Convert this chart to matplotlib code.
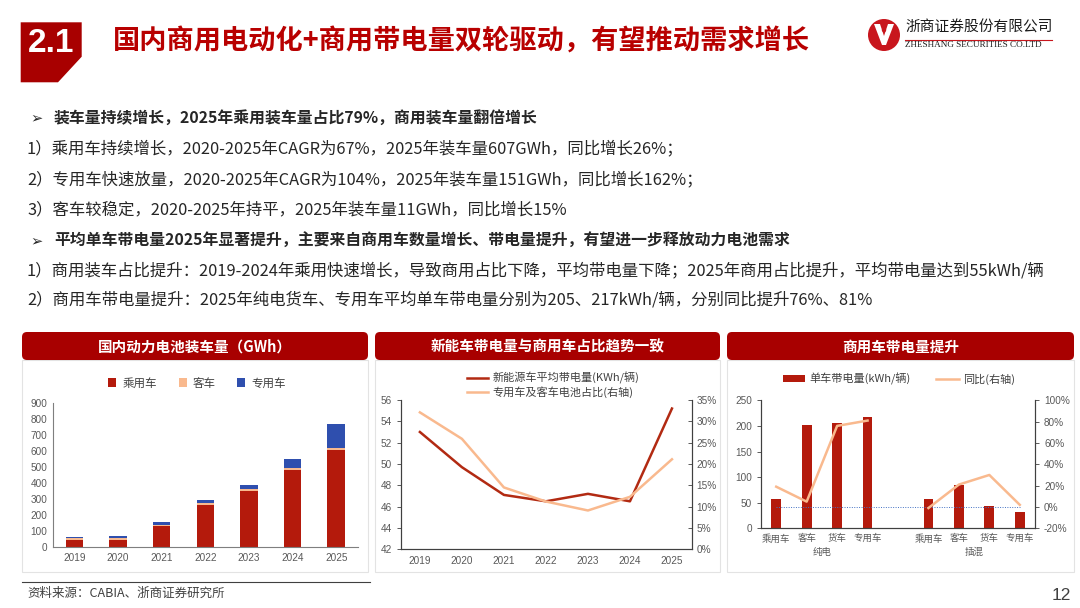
import matplotlib
matplotlib.use('Agg')
import matplotlib.pyplot as plt
from matplotlib.patches import FancyBboxPatch, Polygon, Rectangle, Circle

plt.rcParams['font.family'] = ['Noto Sans CJK SC', 'DejaVu Sans']

W, H = 1080, 608

# ---------------- data ----------------
years = ['2019', '2020', '2021', '2022', '2023', '2024', '2025']
passenger = [42, 44, 131, 264, 352, 482, 607]
bus = [13, 15, 9, 11, 7, 9.6, 11]
special = [7, 10, 16, 17, 29, 58, 151]

avg_kwh = [53.0, 49.7, 47.1, 46.5, 47.2, 46.5, 55.2]
comm_share = [0.321, 0.259, 0.145, 0.112, 0.091, 0.123, 0.211]

cat_labels = ['乘用车', '客车', '货车', '专用车', '乘用车', '客车', '货车', '专用车']
group_labels = ['纯电', '插混']
kwh_per_vehicle = [56.6, 202, 206, 217, 56.6, 84, 43.6, 32.6]
yoy = [0.19, 0.05, 0.76, 0.81, -0.01, 0.21, 0.30, 0.02]

title = '国内商用电动化+商用带电量双轮驱动，有望推动需求增长'
lines = [
    ('b', '装车量持续增长，2025年乘用装车量占比79%，商用装车量翻倍增长'),
    ('n', '1）乘用车持续增长，2020-2025年CAGR为67%，2025年装车量607GWh，同比增长26%；'),
    ('n', '2）专用车快速放量，2020-2025年CAGR为104%，2025年装车量151GWh，同比增长162%；'),
    ('n', '3）客车较稳定，2020-2025年持平，2025年装车量11GWh，同比增长15%'),
    ('b', '平均单车带电量2025年显著提升，主要来自商用车数量增长、带电量提升，有望进一步释放动力电池需求'),
    ('n', '1）商用装车占比提升：2019-2024年乘用快速增长，导致商用占比下降，平均带电量下降；2025年商用占比提升，平均带电量达到55kWh/辆'),
    ('n', '2）商用车带电量提升：2025年纯电货车、专用车平均单车带电量分别为205、217kWh/辆，分别同比提升76%、81%'),
]
panel_titles = ['国内动力电池装车量（GWh）', '新能车带电量与商用车占比趋势一致', '商用车带电量提升']

RED = '#B41A0C'
DARKRED = '#A80000'
PEACH = '#F9B98E'
BLUE = '#2F4FAE'
TXT = '#262626'
TICK = '#595959'

fig = plt.figure(figsize=(W / 100, H / 100), dpi=100)
ax0 = fig.add_axes([0, 0, 1, 1])
ax0.set_xlim(0, W)
ax0.set_ylim(H, 0)
ax0.axis('off')


def pax(x0, y0, x1, y1):
    return fig.add_axes([x0 / W, 1 - y1 / H, (x1 - x0) / W, (y1 - y0) / H])


def fpt(x, y):
    return (x / W, 1 - y / H)


# ---------------- header ----------------
ax0.add_patch(Polygon([(20.7, 22.3), (81.7, 22.3), (81.7, 56.7), (58, 82.3), (20.7, 82.3)],
                      closed=True, color=DARKRED, lw=0))
ax0.text(51, 44, '2.1', color='white', fontsize=24, fontweight='bold',
         family=['Liberation Sans'], ha='center', va='center')
ax0.text(113, 42, title, color='#B80000', fontsize=19.6, fontweight='bold',
         ha='left', va='center')

# logo
ax0.add_patch(Circle((884, 35), 16, color='#C8161D', lw=0))
ax0.add_patch(Polygon([(874, 24), (880, 24), (884, 36), (888, 24), (894, 24),
                       (886, 45), (882, 45)], closed=True, color='white', lw=0))
ax0.add_patch(Circle((884, 30), 2.2, color='#C8161D', lw=0))
ax0.text(905, 28, '浙商证券股份有限公司', fontsize=10.6, color='#1a1a1a', ha='left', va='center')
ax0.plot([905, 1052], [39.5, 39.5], color='#C8161D', lw=0.8)
ax0.text(905, 45, 'ZHESHANG SECURITIES CO.LTD', fontsize=6.6, color='#1a1a1a',
         family=['Liberation Serif'], ha='left', va='center')

# ---------------- bullet text ----------------
ys = [118, 149, 180, 210, 241, 271, 300]
for (kind, s), y in zip(lines, ys):
    if kind == 'b':
        ax0.text(30, y, '➢', fontsize=10.5, color=TXT, ha='left', va='center',
                 family=['DejaVu Sans'])
        ax0.text(54, y, s, fontsize=11.4, color=TXT, fontweight='bold', ha='left', va='center')
    else:
        ax0.text(27, y, s, fontsize=11.8, color=TXT, ha='left', va='center')

# ---------------- panel headers & borders ----------------
panels = [(22, 368), (375, 720), (727, 1074)]
for (x0, x1), t in zip(panels, panel_titles):
    ax0.add_patch(Rectangle((x0, 360), x1 - x0, 212, fill=False, ec='#E3E3E3', lw=0.8))
    ax0.add_patch(FancyBboxPatch((x0, 332), x1 - x0, 28,
                                 boxstyle='round,pad=0,rounding_size=5',
                                 color=DARKRED, lw=0))
    ax0.text((x0 + x1) / 2, 346.5, t, color='white', fontsize=10.5, fontweight='bold',
             ha='center', va='center')

# footer
ax0.plot([22, 370], [581.5, 581.5], color='#404040', lw=0.8)
ax0.text(27, 593, '资料来源：CABIA、浙商证券研究所', fontsize=9, color='#404040',
         ha='left', va='center')
ax0.text(1071, 595, '12', fontsize=12.5, color='#404040', ha='right', va='center',
         family=['Liberation Sans'])

# ---------------- chart 1 ----------------
a1 = pax(52.7, 402.7, 358, 547)
a1.set_facecolor('none')
x = range(len(years))
bot2 = [p + b for p, b in zip(passenger, bus)]
a1.bar(x, passenger, width=0.4, color=RED, label='乘用车', zorder=2)
a1.bar(x, bus, width=0.4, bottom=passenger, color=PEACH, label='客车', zorder=2)
a1.bar(x, special, width=0.4, bottom=bot2, color=BLUE, label='专用车', zorder=2)
a1.set_xlim(-0.5, 6.5)
a1.set_ylim(0, 900)
a1.set_yticks(range(0, 901, 100))
a1.set_xticks(list(x))
a1.set_xticklabels(years)
for s in ['top', 'right']:
    a1.spines[s].set_visible(False)
for s in ['left', 'bottom']:
    a1.spines[s].set_color('#7F7F7F')
    a1.spines[s].set_linewidth(0.8)
a1.tick_params(length=0, labelsize=7.2, labelcolor=TICK, pad=4)
for lab in a1.get_xticklabels() + a1.get_yticklabels():
    lab.set_family(['Liberation Sans'])
a1.legend(loc='center', bbox_to_anchor=fpt(197, 383), bbox_transform=fig.transFigure,
          ncol=3, frameon=False, fontsize=8.3, handlelength=0.7, handleheight=0.7,
          columnspacing=1.9, handletextpad=0.5, labelcolor='#404040')

# ---------------- chart 2 ----------------
a2 = pax(401, 400, 691.7, 549.3)
a2.set_facecolor('none')
b2 = a2.twinx()
l1, = a2.plot(list(x), avg_kwh, color='#B22A12', lw=1.8, label='新能源车平均带电量(KWh/辆)', zorder=3)
l2, = b2.plot(list(x), comm_share, color=PEACH, lw=1.8, label='专用车及客车电池占比(右轴)', zorder=2)
a2.set_xlim(-0.45, 6.47)
a2.set_ylim(42, 56)
a2.set_yticks(range(42, 57, 2))
b2.set_ylim(0, 0.35)
b2.set_yticks([i * 0.05 for i in range(8)])
b2.set_yticklabels(['%d%%' % (i * 5) for i in range(8)])
a2.set_xticks(list(x))
a2.set_xticklabels(years)
for ax in (a2, b2):
    ax.spines['top'].set_visible(False)
    for s in ['left', 'right', 'bottom']:
        ax.spines[s].set_color('#404040')
        ax.spines[s].set_linewidth(0.8)
    ax.tick_params(labelsize=7.2, labelcolor=TICK, length=3, width=0.6, color='#404040',
                   direction='in')
    for lab in ax.get_xticklabels() + ax.get_yticklabels():
        lab.set_family(['Liberation Sans'])
a2.tick_params(axis='x', length=0, pad=5)
a2.tick_params(axis='y', direction='out')
b2.legend(handles=[l1, l2], loc='center left', bbox_to_anchor=fpt(457, 385),
          bbox_transform=fig.transFigure, frameon=False, fontsize=8.0,
          handlelength=1.9, handletextpad=0.4, labelspacing=0.2, labelcolor='#404040')

# ---------------- chart 3 ----------------
pos = [0, 1, 2, 3, 5, 6, 7, 8]
a3 = pax(761, 400.3, 1035, 528.3)
a3.set_facecolor('none')
b3 = a3.twinx()
bars = a3.bar(pos, kwh_per_vehicle, width=0.32, color=RED, label='单车带电量(kWh/辆)', zorder=2)
ln, = b3.plot(pos[:4], yoy[:4], color=PEACH, lw=1.8, label='同比(右轴)', zorder=3)
b3.plot(pos[4:], yoy[4:], color=PEACH, lw=1.8, zorder=3)
b3.plot([pos[0], pos[-1]], [0, 0], color='#4472C4', lw=0.7, ls=(0, (1, 1.5)), zorder=1)
a3.set_xlim(-0.5, 8.5)
a3.set_ylim(0, 250)
a3.set_yticks(range(0, 251, 50))
b3.set_ylim(-0.2, 1.0)
b3.set_yticks([i * 0.2 - 0.2 for i in range(7)])
b3.set_yticklabels(['%d%%' % round((i * 0.2 - 0.2) * 100) for i in range(7)])
a3.set_xticks(pos)
a3.set_xticklabels(cat_labels)
for ax in (a3, b3):
    ax.spines['top'].set_visible(False)
    for s in ['left', 'right', 'bottom']:
        ax.spines[s].set_color('#404040')
        ax.spines[s].set_linewidth(0.8)
    ax.tick_params(axis='y', labelsize=7.2, labelcolor=TICK, length=3, width=0.6,
                   color='#404040', direction='out')
    for lab in ax.get_yticklabels():
        lab.set_family(['Liberation Sans'])
a3.tick_params(axis='x', length=0, labelsize=6.8, labelcolor=TICK, pad=4)
for gx, g in zip([1.5, 6.5], group_labels):
    a3.text(gx, -0.19, g, transform=a3.get_xaxis_transform(), ha='center', va='center',
            fontsize=6.8, color=TICK)
b3.legend(handles=[bars, ln], loc='center', bbox_to_anchor=fpt(899, 379),
          bbox_transform=fig.transFigure, ncol=2, frameon=False, fontsize=8.0,
          handlelength=2.0, handleheight=0.6, handletextpad=0.4, columnspacing=2.3,
          labelcolor='#404040')

fig.savefig('out.png', dpi=100)
